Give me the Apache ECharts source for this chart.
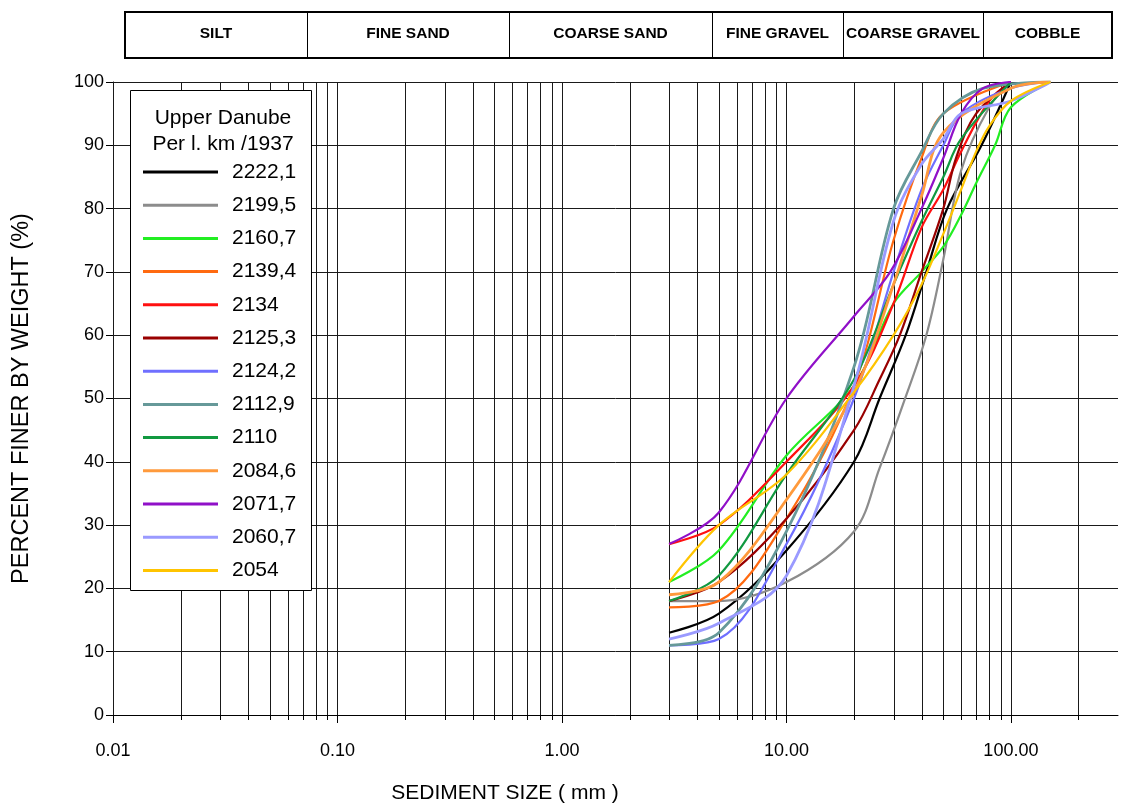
<!DOCTYPE html>
<html><head><meta charset="utf-8">
<script src="https://cdn.jsdelivr.net/npm/echarts@6/dist/echarts.min.js"></script>
<style>html,body{margin:0;padding:0;background:#fff}#c{width:1126px;height:807px}</style>
</head><body><div id="c"></div>
<script>
// ---- data (sediment size mm, percent finer) ----
const seriesNames = ['2222,1','2199,5','2160,7','2139,4','2134','2125,3','2124,2','2112,9','2110','2084,6','2071,7','2060,7','2054'];
const d2222_1 = [[3,13],[5,16],[10,26],[20,40],[26,50],[34,60],[42,70],[52,80],[74,90],[100,100]];
const d2199_5 = [[3,18],[5,18],[10,21],[20,29],[26,39],[33,49],[42,60],[50,72],[60,86],[80,96],[100,100]];
const d2160_7 = [[3,21],[5,26],[10,41],[20,52],[30,65],[40,70],[50,74],[60,79],[70,84],[85,90],[100,96],[150,100]];
const d2139_4 = [[3,17],[5,18],[10,31],[20,52],[30,75],[40,88],[50,95],[100,100]];
const d2134   = [[3,27],[5,30],[10,40],[20,52],[30,65],[40,77],[50,83],[60,89],[80,97],[100,100]];
const d2125_3 = [[3,18],[5,21],[10,31],[20,45],[26,53],[32,60],[40,70],[50,80],[57,88],[70,95],[100,100]];
const d2124_2 = [[3,11],[5,12],[10,27],[20,50],[30,70],[40,83],[50,90],[60,95],[100,99],[150,100]];
const d2112_9 = [[3,11],[5,13],[10,29],[20,55],[30,80],[40,89],[50,95],[75,99],[150,100]];
const d2110   = [[3,18],[5,22],[10,38],[20,53],[30,68],[40,78],[50,85],[60,91],[100,100]];
const d2084_6 = [[3,19],[5,21],[10,34],[20,51],[30,68],[40,82],[50,92],[100,99],[150,100]];
const d2071_7 = [[3,27],[5,32],[10,50],[20,63],[29,70],[40,80],[50,88],[60,95],[75,99],[100,100]];
const d2060_7 = [[3,12],[5,14.5],[10,22],[20,52],[30,78],[40,87],[50,91],[60,95],[100,97],[150,100]];
const d2054   = [[3,21],[5,30],[10,38],[20,51],[30,60],[40,68],[50,76],[60,83],[70,89],[80,93],[100,97],[150,100]];
const seriesData = [d2222_1,d2199_5,d2160_7,d2139_4,d2134,d2125_3,d2124_2,d2112_9,d2110,d2084_6,d2071_7,d2060_7,d2054];

const xMajorTicks = [0.01, 0.1, 1, 10, 100];
const xMinorTicks = [0.02,0.03,0.04,0.05,0.06,0.07,0.08,0.09,
                     0.2,0.3,0.4,0.5,0.6,0.7,0.8,0.9,
                     2,3,4,5,6,7,8,9,
                     20,30,40,50,60,70,80,90,
                     200];
const sizeClasses = ['SILT','FINE SAND','COARSE SAND','FINE GRAVEL','COARSE GRAVEL','COBBLE'];
const legendTitle = ['Upper Danube','Per l. km /1937'];

// ---- styles ----
const colors = ['#000000','#8c8c8c','#22ee22','#ff6a10','#ff1010','#990000','#6f6fff','#669999','#119940','#ff9a3c','#9010c8','#9a9aff','#ffc400'];
const widths = [2.2,2.2,2.2,2.2,2.2,2.2,2.2,2.8,2.2,2.8,2.2,2.8,2.2];
const FONT = 'Liberation Sans, Arial, sans-serif';

const chart = echarts.init(document.getElementById('c'), null, {renderer:'canvas'});

const lineSeries = seriesNames.map((n,i)=>({
  name:n, type:'line', data:seriesData[i], smooth:0.35, symbol:'none',
  lineStyle:{color:colors[i], width:widths[i]}, itemStyle:{color:colors[i]}, z:3
}));

const gridSeries = {
  type:'custom', silent:true, clip:false, z:1,
  data: xMajorTicks.map(v=>[v,1]).concat(xMinorTicks.map(v=>[v,0])),
  encode:{x:0,y:1},
  renderItem(params, api){
    const v = api.value(0), major = api.value(1)===1;
    const t = api.coord([v,100]), b = api.coord([v,0]);
    const x = Math.round(t[0])+0.5;
    return {type:'group', children:[
      {type:'line', shape:{x1:x,y1:t[1],x2:x,y2:b[1]}, style:{stroke:'#1a1a1a',lineWidth:1}},
      {type:'line', shape:{x1:x,y1:b[1],x2:x,y2:b[1]+(major?8:5)}, style:{stroke:'#000',lineWidth:1}}
    ]};
  }
};

// header band boundaries (pixel layout of the annotation strip)
const hdrX = [125,307,509,712,843,983,1112];
const graphics = [];
graphics.push({type:'rect', shape:{x:125,y:12,width:987,height:46}, style:{fill:'#fff',stroke:'#000',lineWidth:2}, z:10});
for (let i=1;i<hdrX.length-1;i++) graphics.push({type:'line', shape:{x1:hdrX[i]+0.5,y1:12,x2:hdrX[i]+0.5,y2:58}, style:{stroke:'#000',lineWidth:1}, z:11});
sizeClasses.forEach((s,i)=>{
  graphics.push({type:'text', x:(hdrX[i]+hdrX[i+1])/2, y:33.5, style:{text:s, font:'bold 15.5px '+FONT, fill:'#000', align:'center', verticalAlign:'middle'}, z:11});
});
// legend box
graphics.push({type:'rect', shape:{x:130.5,y:90.5,width:181,height:500}, style:{fill:'#fff',stroke:'#000',lineWidth:1}, z:20});
graphics.push({type:'text', x:223, y:118, style:{text:legendTitle[0], font:'21px '+FONT, fill:'#000', align:'center', verticalAlign:'middle'}, z:21});
graphics.push({type:'text', x:223, y:144, style:{text:legendTitle[1], font:'21px '+FONT, fill:'#000', align:'center', verticalAlign:'middle'}, z:21});
// x axis name
graphics.push({type:'text', x:505, y:793, style:{text:'SEDIMENT SIZE ( mm )', font:'21px '+FONT, fill:'#000', align:'center', verticalAlign:'middle'}, z:21});

chart.setOption({
  animation:false,
  textStyle:{fontFamily:FONT},
  grid:{left:113, right:8, top:82, bottom:92, containLabel:false},
  xAxis:{type:'log', logBase:10, min:0.01, max:300,
    axisLine:{show:true, lineStyle:{color:'#000',width:1}},
    axisTick:{show:false}, splitLine:{show:false}, minorTick:{show:false},
    axisLabel:{show:true, color:'#000', fontSize:18, margin:27, showMaxLabel:false,
      formatter:v=> xMajorTicks.includes(+v) ? (+v).toFixed(2) : ''}
  },
  yAxis:{type:'value', min:0, max:100, interval:10,
    name:'PERCENT FINER BY WEIGHT (%)', nameLocation:'middle', nameGap:79, nameRotate:90,
    nameTextStyle:{color:'#000', fontSize:23.5, fontFamily:FONT},
    axisLine:{show:true, lineStyle:{color:'#000',width:1}},
    axisTick:{show:true, length:7, lineStyle:{color:'#000'}},
    axisLabel:{color:'#000', fontSize:18, margin:9},
    splitLine:{show:true, lineStyle:{color:'#1a1a1a',width:1}}
  },
  legend:{orient:'vertical', left:143, top:161, itemWidth:75, itemHeight:3, itemGap:11.2, padding:0, z:30,
    icon:'rect', data:seriesNames, selectedMode:false,
    textStyle:{color:'#000', fontSize:21, lineHeight:22, padding:[0,0,0,9], fontFamily:FONT}
  },
  graphic:{elements:graphics},
  series:[gridSeries].concat(lineSeries)
});
</script></body></html>
